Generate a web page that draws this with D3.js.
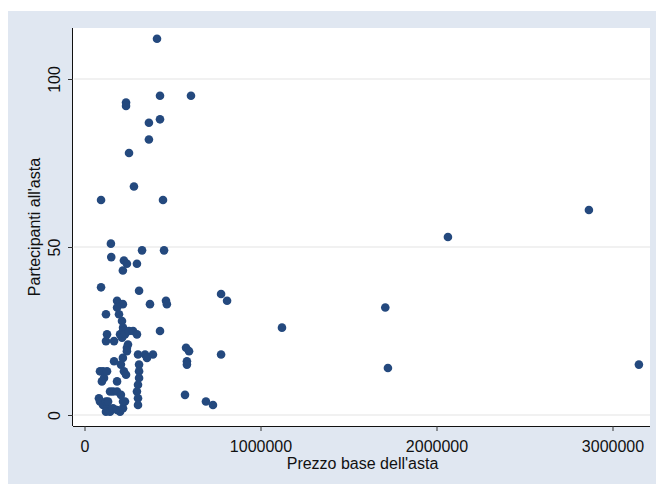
<!DOCTYPE html>
<html>
<head>
<meta charset="utf-8">
<script src="https://cdn.jsdelivr.net/npm/d3@7"></script>
<style>
  html, body { margin: 0; padding: 0; background: #ffffff; }
  svg { display: block; }
  text { font-family: "Liberation Sans", Arial, Helvetica, sans-serif; fill: #111; }
</style>
</head>
<body>
<svg id="chart" width="656" height="484"></svg>
<script>
// Auction data: base price (euro) and number of participants
const prezzoBase = [
  412000, 429000, 605000, 236000, 236000, 429000, 366000, 366000, 253000, 281000,
  94000, 446000, 2065000, 2866000, 3150000, 776000, 810000, 1122000, 1709000, 776000,
  1724000, 690000, 730000, 150000, 327000, 452000, 152000, 224000, 241000, 298000,
  218000, 94000, 310000, 185000, 201000, 218000, 185000, 372000, 463000, 468000,
  122000, 196000, 213000, 219000, 219000, 128000, 122000, 168000, 202000, 213000,
  230000, 253000, 276000, 298000, 429000, 247000, 241000, 577000, 594000, 304000,
  344000, 389000, 355000, 241000, 218000, 207000, 168000, 582000, 582000, 310000,
  310000, 310000, 304000, 298000, 304000, 304000, 571000, 88000, 105000, 111000,
  99000, 185000, 224000, 236000, 145000, 162000, 185000, 82000, 88000, 105000,
  128000, 122000, 145000, 122000, 134000, 162000, 185000, 202000, 219000, 230000,
  219000, 207000, 128000
];
const partecipanti = [
  112, 95, 95, 93, 92, 88, 87, 82, 78, 68,
  64, 64, 53, 61, 15, 36, 34, 26, 32, 18,
  14, 4, 3, 51, 49, 49, 47, 46, 45, 45,
  43, 38, 37, 34, 33, 33, 32, 33, 34, 33,
  30, 30, 28, 26, 25, 24, 22, 22, 24, 23,
  24, 25, 25, 24, 25, 21, 20, 20, 19, 18,
  18, 18, 17, 19, 17, 15, 16, 16, 15, 15,
  13, 11, 9, 7, 5, 3, 6, 13, 13, 11,
  10, 10, 13, 12, 7, 7, 7, 5, 4, 3,
  2, 1, 1, 4, 4, 2, 1.5, 1, 2, 4,
  4, 6, 13
];
const xTicks = [0, 1000000, 2000000, 3000000];
const yTicks = [0, 50, 100];
const xTitle = "Prezzo base dell'asta";
const yTitle = "Partecipanti all'asta";

const svg = d3.select("#chart");

// Plot region bounds (pixels)
const plotL = 73, plotR = 650, plotT = 28, plotB = 426;

// Graph region background
svg.append("rect")
  .attr("x", 8).attr("y", 11).attr("width", 648).attr("height", 473)
  .attr("fill", "#e0e7f1");

// Plot region
svg.append("rect")
  .attr("x", plotL).attr("y", plotT)
  .attr("width", plotR - plotL).attr("height", plotB - plotT)
  .attr("fill", "#ffffff");

const x = d3.scaleLinear().domain([-65341, 3213068]).range([plotL, plotR]);
const y = d3.scaleLinear().domain([-3.27, 115.18]).range([plotB, plotT]);

// Horizontal grid lines
svg.append("g")
  .selectAll("line")
  .data(yTicks)
  .join("line")
  .attr("x1", plotL + 1).attr("x2", plotR)
  .attr("y1", d => y(d)).attr("y2", d => y(d))
  .attr("stroke", "#e4e4e4").attr("stroke-width", 1.2);

// X axis
const xAxis = svg.append("g")
  .attr("transform", `translate(0,${plotB})`)
  .call(d3.axisBottom(x).tickValues(xTicks).tickFormat(d3.format("d")).tickSize(5).tickPadding(10));
xAxis.select(".domain").attr("d", `M${plotL},0.5H${plotR}`).attr("stroke", "#111");
xAxis.selectAll(".tick line").attr("stroke", "#333");
xAxis.selectAll(".tick text")
  .attr("font-size", 16)
  .attr("font-family", "Liberation Sans, Arial, sans-serif")
  .attr("fill", "#111");

// Y axis
const yAxis = svg.append("g")
  .attr("transform", `translate(${plotL},0)`)
  .call(d3.axisLeft(y).tickValues(yTicks).tickFormat(d3.format("d")).tickSize(5).tickPadding(0));
yAxis.select(".domain").attr("d", `M-0.5,${plotT}V${plotB}`).attr("stroke", "#111");
yAxis.selectAll(".tick line").attr("stroke", "#333");
yAxis.selectAll(".tick text")
  .attr("font-size", 16)
  .attr("font-family", "Liberation Sans, Arial, sans-serif")
  .attr("fill", "#111")
  .attr("x", null).attr("dy", null)
  .attr("text-anchor", "middle")
  .attr("transform", "translate(-13,0) rotate(-90)");

// Axis titles
svg.append("text")
  .attr("x", (x(0) + x(3000000)) / 2 + 14).attr("y", 469)
  .attr("text-anchor", "middle")
  .attr("font-size", 16)
  .text(xTitle);

svg.append("text")
  .attr("transform", `translate(40,${(plotT + plotB) / 2}) rotate(-90)`)
  .attr("text-anchor", "middle")
  .attr("font-size", 16)
  .text(yTitle);

// Points
const pts = prezzoBase.map((p, i) => ({ p, n: partecipanti[i] }));
svg.append("g")
  .selectAll("circle")
  .data(pts)
  .join("circle")
  .attr("cx", d => x(d.p))
  .attr("cy", d => y(d.n))
  .attr("r", 4.3)
  .attr("fill", "#24497e");
</script>
</body>
</html>
